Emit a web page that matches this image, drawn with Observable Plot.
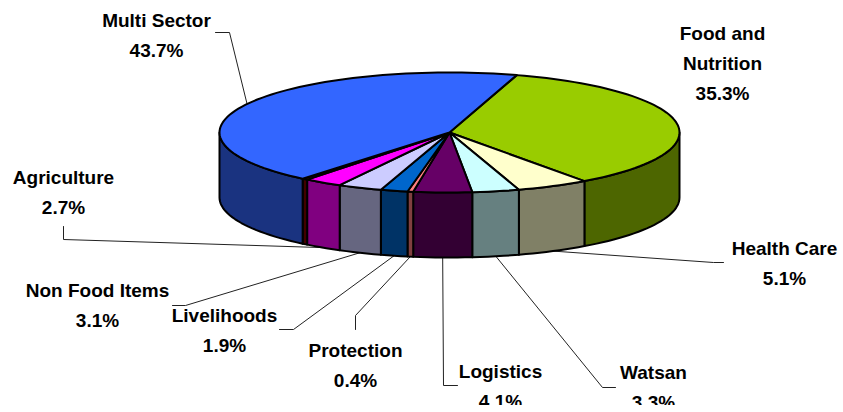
<!DOCTYPE html>
<html>
<head>
<meta charset="utf-8">
<script src="https://cdn.jsdelivr.net/npm/d3@7"></script>
<script src="https://cdn.jsdelivr.net/npm/@observablehq/plot@0.6"></script>
<style>
  html, body { margin: 0; padding: 0; background: #fff; }
</style>
</head>
<body>
<div id="chart"></div>
<script>
// Data, clockwise from the Multi Sector / Food boundary
const sectors = ["Food and\nNutrition", "Health Care", "Watsan", "Logistics", "Protection", "Livelihoods", "Non Food Items", "Agriculture", "", "Multi Sector"];
const shares = [35.3, 5.1, 3.3, 4.1, 0.4, 1.9, 3.1, 2.7, 0.4, 43.7];
const topColors = ["#99CC00", "#FFFFCC", "#CCFFFF", "#660066", "#FF8080", "#0066CC", "#CCCCFF", "#FF00FF", "#800000", "#3366FF"];
const sideColors = ["#4D6600", "#808066", "#668080", "#330033", "#804040", "#003366", "#666680", "#800080", "#400000", "#1A3380"];

// Label placement (null: slice has no label or leader)
const labelX = [722, 784, 653, 500, 355, 224, 97, 63, null, 156];
const labelY = [60, 260, 384, 383, 362, 327, 302, 189, null, 32];
const leaderStart = [null, [723, 262], [615, 387], [457, 385], [355, 329], [279, 329], [172, 305], [63, 226], null, [215, 32]];
const leaderElbow = [null, [713, 262], [602, 387], [443, 385], [355, 315], [293, 329], [185, 305], [63, 239], null, [229, 32]];

// Pie projection
const W = 843, H = 405;
const pie = {cx: 449, cy: 132, rx: 230, ry: 60, depth: 65, start: 17};
const total = d3.sum(shares);
const rad = (d) => (d * Math.PI) / 180;
const rim = (t, drop = 0) => [pie.cx + pie.rx * Math.sin(rad(t)), pie.cy - pie.ry * Math.cos(rad(t)) + drop];
const arc = (a, b, drop = 0) => {
  const n = Math.max(1, Math.ceil(Math.abs(b - a) / 2));
  return d3.range(n + 1).map((i) => rim(a + ((b - a) * i) / n, drop));
};

let acc = pie.start;
const slices = shares.map((v, i) => {
  const a = acc;
  acc += (v / total) * 360;
  return {i, a, b: acc, mid: (a + acc) / 2};
});

const toRows = (key, color, pts) => pts.map(([x, y]) => ({key, color, x, y}));

const tops = slices.flatMap((s) =>
  toRows("t" + s.i, topColors[s.i], [[pie.cx, pie.cy], ...arc(s.a, s.b), [pie.cx, pie.cy]])
);
const sides = slices.flatMap((s) => {
  const a = Math.max(s.a, 90), b = Math.min(s.b, 270);
  if (b <= a) return [];
  const upper = arc(a, b), lower = arc(b, a, pie.depth);
  return toRows("s" + s.i, sideColors[s.i], [...upper, ...lower, upper[0]]);
});
const leaders = slices.flatMap((s) => {
  if (!leaderStart[s.i]) return [];
  const visibleSide = s.mid >= 90 && s.mid <= 270;
  return toRows("l" + s.i, "", [leaderStart[s.i], leaderElbow[s.i], rim(s.mid, visibleSide ? pie.depth : 0)]);
});
const labels = slices
  .filter((s) => sectors[s.i])
  .map((s) => ({
    x: labelX[s.i],
    y: labelY[s.i],
    text: sectors[s.i] + "\n" + d3.format(".1f")(shares[s.i]) + "%"
  }));

const chart = Plot.plot({
  width: W,
  height: H,
  margin: 0,
  x: {domain: [0, W], range: [0, W], axis: null},
  y: {domain: [0, H], range: [0, H], axis: null},
  color: {type: "identity"},
  style: {background: "#fff"},
  marks: [
    Plot.line(leaders, {x: "x", y: "y", z: "key", stroke: "#222", strokeWidth: 1}),
    Plot.line(sides, {x: "x", y: "y", z: "key", fill: "color", stroke: "#000", strokeWidth: 2, strokeLinejoin: "round"}),
    Plot.line(tops, {x: "x", y: "y", z: "key", fill: "color", stroke: "#000", strokeWidth: 2, strokeLinejoin: "round"}),
    Plot.text(labels, {
      x: "x",
      y: "y",
      text: "text",
      fontFamily: "'Liberation Sans', Arial, sans-serif",
      fontWeight: "bold",
      fontSize: 19,
      lineHeight: 1.56,
      fill: "#000"
    })
  ]
});
document.getElementById("chart").appendChild(chart);
</script>
</body>
</html>
